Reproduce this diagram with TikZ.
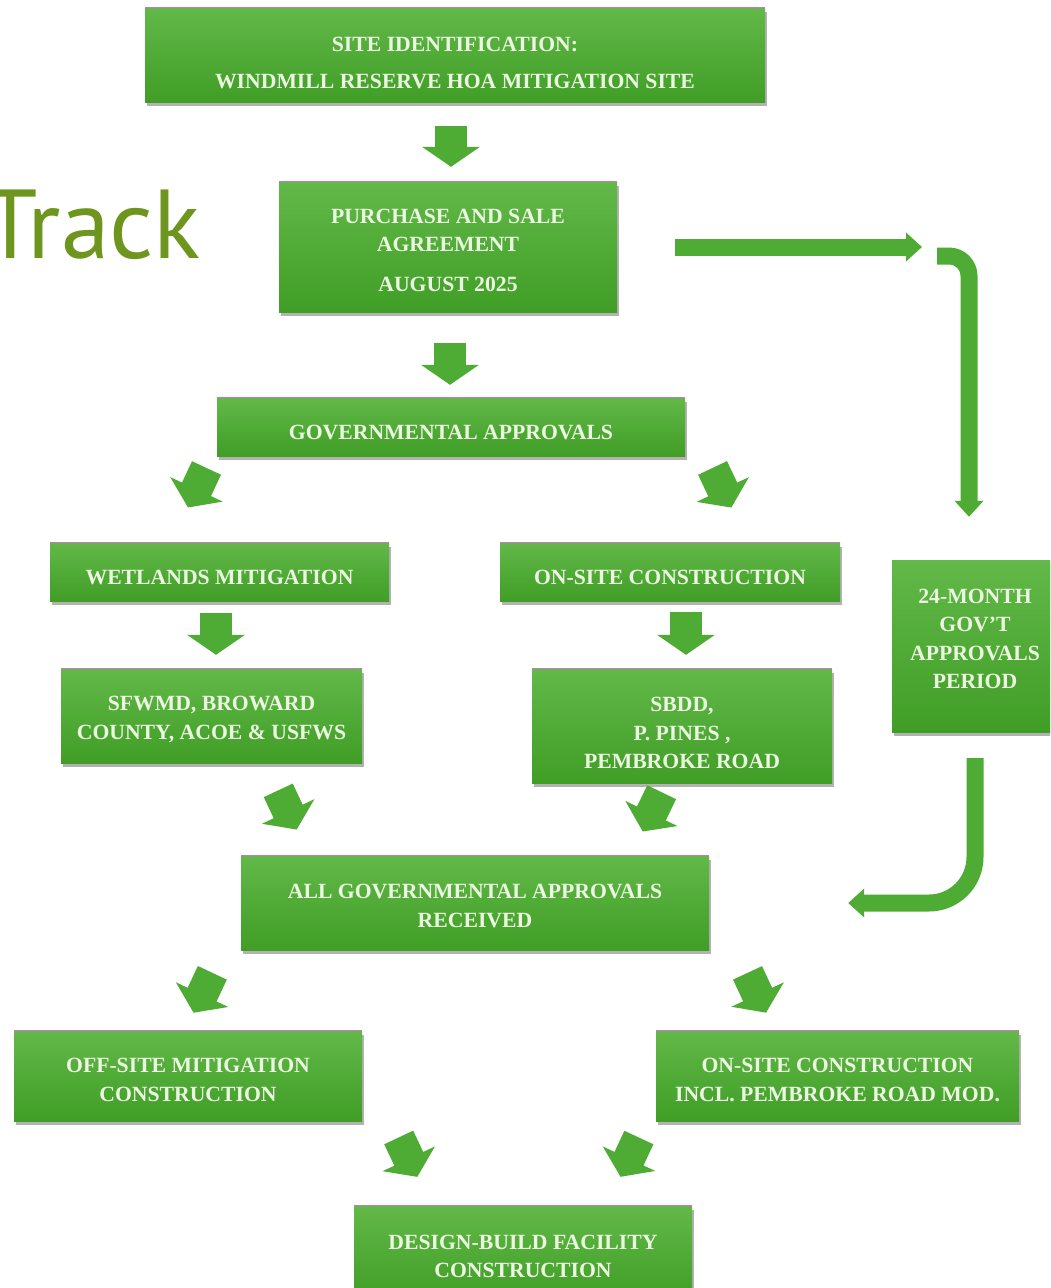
\documentclass[tikz,border=0pt]{standalone}
\usepackage{fontspec}
\setmainfont{Liberation Serif}
\newfontfamily\trackfont{PT Sans}
\usetikzlibrary{arrows.meta,shadows,calc}
\definecolor{boxtop}{RGB}{98, 184, 72}
\definecolor{boxbottom}{RGB}{64, 158, 38}
\definecolor{arrowgreen}{RGB}{78, 172, 52}
\definecolor{textwhite}{RGB}{236, 247, 226}
\definecolor{edgepink}{RGB}{196, 120, 196}
\definecolor{trackolive}{RGB}{110, 150, 30}

\begin{document}
\begin{tikzpicture}[x=1pt, y=-1pt,
    stage/.style={rectangle, inner sep=0pt, top color=boxtop, bottom color=boxbottom,
        drop shadow={shadow xshift=2pt, shadow yshift=-4pt, opacity=0.3, fill=black},
        text=textwhite, font=\bfseries\fontsize{21.7}{28.5}\selectfont, align=center},
    textlower/.style={execute at begin node={\rule{0pt}{#1}}},
    textraise/.style={execute at end node={\rule[-#1]{0pt}{0pt}}},
    stubarrow/.style={arrowgreen, line width=32pt, -{Triangle[length=20pt, width=57pt]}},
    longarrow/.style={arrowgreen, line width=17pt, -{Triangle[length=16pt, width=28pt]}},
    topedge/.style={edgepink, line width=1pt}]
    \useasboundingbox (0,0) rectangle (1050,1288);
    \clip (0,0) rectangle (1050,1288);
    \fill[white] (0,0) rectangle (1050,1288);

    % Title
    \node[font=\trackfont\fontsize{98}{98}\selectfont, text=trackolive, anchor=base east, inner sep=0pt] (title) at (201, 258) {Track};

    % Top of the chain
    \node[stage, textlower=68pt, minimum width=620, minimum height=94] (site) at (455, 55) {SITE IDENTIFICATION:\\[9pt]WINDMILL RESERVE HOA MITIGATION SITE};
    \node[stage, textlower=89pt, minimum width=338, minimum height=130] (purchase) at (448, 247) {PURCHASE AND SALE\\AGREEMENT\\[11pt]AUGUST 2025};
    \node[stage, textlower=26pt, minimum width=468, minimum height=58] (gov) at (451, 427) {GOVERNMENTAL APPROVALS};

    % Two tracks
    \node[stage, textlower=26pt, minimum width=339, minimum height=58] (wet) at (219.5, 572) {WETLANDS MITIGATION};
    \node[stage, textlower=26pt, minimum width=340, minimum height=58] (onsite) at (670, 572) {ON-SITE CONSTRUCTION};
    \node[stage, textlower=50pt, minimum width=301, minimum height=94] (sfwmd) at (211.5, 716) {SFWMD, BROWARD\\COUNTY, ACOE \& USFWS};
    \node[stage, textlower=86pt, minimum width=300, minimum height=114] (sbdd) at (682, 726) {SBDD,\\P. PINES ,\\PEMBROKE ROAD};

    % Side box
    \node[stage, textraise=14pt, minimum width=166, minimum height=172] (period) at (975, 646) {24-MONTH\\GOV’T\\APPROVALS\\PERIOD};

    % Bottom of the chain
    \node[stage, textlower=49pt, minimum width=468, minimum height=94] (allgov) at (475, 903) {ALL GOVERNMENTAL APPROVALS\\RECEIVED};
    \node[stage, textlower=51pt, minimum width=348, minimum height=90] (offsite) at (188, 1076) {OFF-SITE MITIGATION\\CONSTRUCTION};
    \node[stage, textlower=51pt, minimum width=363, minimum height=90] (onsitefull) at (837.5, 1076) {ON-SITE CONSTRUCTION\\INCL. PEMBROKE ROAD MOD.};
    \node[stage, textlower=50pt, minimum width=338, minimum height=94] (design) at (523, 1253) {DESIGN-BUILD FACILITY\\CONSTRUCTION};

    \foreach \n in {site,purchase,gov,wet,onsite,sfwmd,sbdd,allgov,offsite,onsitefull,design}
        \draw[topedge] (\n.north west) -- (\n.north east);

    % Straight arrows
    \draw[stubarrow, shorten <=24pt, shorten >=15pt] ([xshift=-4pt]site.south) -- ([xshift=3pt]purchase.north);
    \draw[stubarrow, shorten <=31pt, shorten >=13pt] ([xshift=2pt]purchase.south) -- ([xshift=-1pt]gov.north);
    \draw[stubarrow, shorten <=12pt, shorten >=14pt] ([xshift=-3.5pt]wet.south) -- ([xshift=4.5pt]sfwmd.north);
    \draw[stubarrow, shorten <=11pt, shorten >=14pt] ([xshift=16pt]onsite.south) -- ([xshift=4pt]sbdd.north);

    % Slanted arrows
    \draw[stubarrow, shorten <=13pt, shorten >=39pt] ([xshift=-239pt]gov.south) -- ([xshift=-48pt]wet.north);
    \draw[stubarrow, shorten <=13pt, shorten >=39pt] ([xshift=256pt]gov.south) -- ([xshift=78pt]onsite.north);
    \draw[stubarrow, shorten <=30pt, shorten >=29pt] ([xshift=54pt]sfwmd.south) -- ([xshift=-166pt]allgov.north);
    \draw[stubarrow, shorten <=10pt, shorten >=27pt] ([xshift=-16pt]sbdd.south) -- ([xshift=156pt]allgov.north);
    \draw[stubarrow, shorten <=25pt, shorten >=20pt] ([xshift=-252pt]allgov.south) -- ([xshift=-3pt]offsite.north);
    \draw[stubarrow, shorten <=25pt, shorten >=20pt] ([xshift=262pt]allgov.south) -- ([xshift=-63pt]onsitefull.north);
    \draw[stubarrow, shorten <=18pt, shorten >=32pt] ([xshift=203pt]offsite.south) -- ([xshift=-92pt]design.north);
    \draw[stubarrow, shorten <=18pt, shorten >=32pt] ([xshift=-191pt]onsitefull.south) -- ([xshift=84pt]design.north);

    % Side track
    \draw[longarrow, shorten <=58pt, shorten >=53pt] (purchase.east) -- (purchase.east -| period.north);
    \draw[longarrow, rounded corners=20pt, shorten >=43pt] ($(purchase.east -| period.north)+(-38,9)$) -| ([xshift=-6pt]period.north);
    \draw[longarrow, rounded corners=46pt, shorten <=26pt, shorten >=139pt] (period.south) |- (allgov.east);
\end{tikzpicture}
\end{document}
